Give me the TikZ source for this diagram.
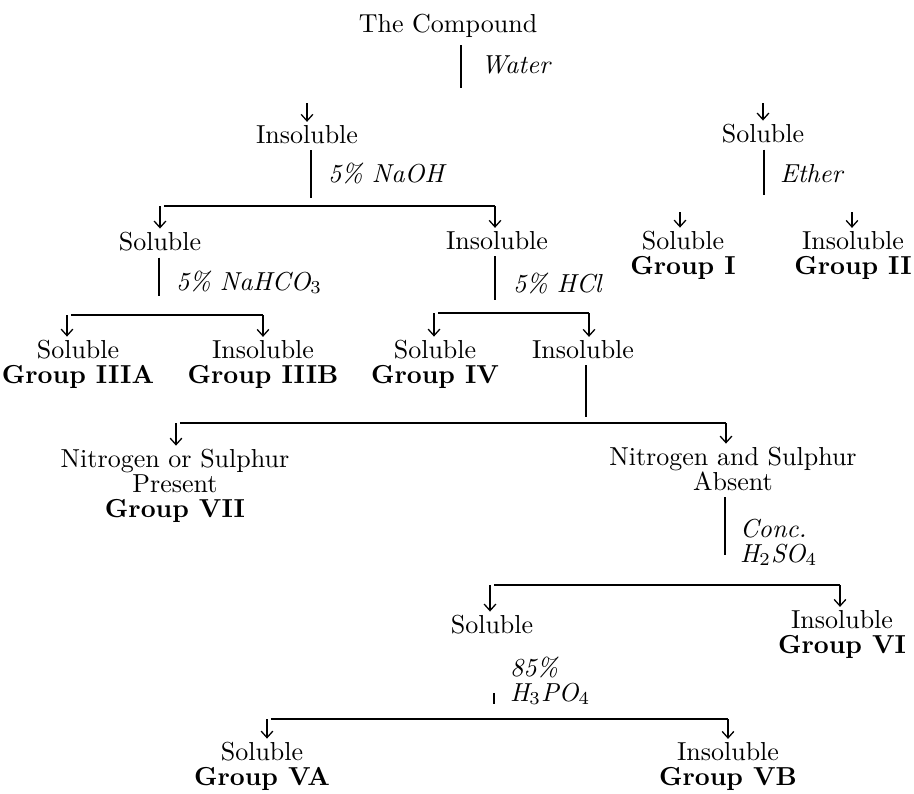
\documentclass[tikz,border=0pt]{standalone}
\usetikzlibrary{arrows.meta, positioning}

\begin{document}
\begin{tikzpicture}[x=0.3846pt, y=-0.3846pt, >={Straight Barb[length=2.5pt, width=4.5pt]},
        every node/.style={inner sep=1pt, font=\fontsize{10}{9.6}\selectfont},
        res/.style={anchor=base, align=center},
        reag/.style={anchor=base west, align=left, font=\fontsize{10}{9.6}\selectfont\itshape},
        ln/.style={line width=0.5pt, shorten <=1.5pt},
        arr/.style={->, line width=0.5pt}]
        \useasboundingbox (0,0) rectangle (914,794);

        % Water (base of a node = its last line)
        \node[res] (compound) at (448,33) {The Compound};
        \coordinate (water) at (461,88);
        \draw[ln] (compound.south -| water) -- (water);
        \node[reag] (waterlbl) at (478,73) {Water};

        \coordinate (topL) at (307,103);
        \coordinate (topR) at (763,103);
        \node[res] (insA) at (307,143) {Insoluble};
        \node[res] (solA) at (763,142) {Soluble};
        \draw[arr] (topL) -- (topL |- insA.north);
        \draw[arr] (topR) -- (topR |- solA.north);

        % 5% NaOH
        \coordinate (naoh) at (311,198);
        \draw[ln] (insA.south -| naoh) -- (naoh);
        \node[reag] (naohlbl) at (325,182) {5\% NaOH};
        \coordinate (naohL) at (160,206);
        \coordinate (naohR) at (495,206);
        \draw[ln] (naohL) -- (naohR);
        \node[res] (solB) at (160,250) {Soluble};
        \node[res] (insB) at (497,249) {Insoluble};
        \draw[arr] (naohL) -- (naohL |- solB.north);
        \draw[arr] (naohR) -- (naohR |- insB.north);

        % Ether
        \coordinate (ether) at (764,195);
        \draw[ln] (solA.south -| ether) -- (ether);
        \node[reag] (etherlbl) at (777,182) {Ether};
        \coordinate (ethL) at (680,212);
        \coordinate (ethR) at (852,212);
        \node[res] (grpI) at (683,274) {Soluble\\\textbf{Group I}};
        \node[res] (grpII) at (853,274) {Insoluble\\\textbf{Group II}};
        \draw[arr] (ethL) -- (ethL |- grpI.north);
        \draw[arr] (ethR) -- (ethR |- grpII.north);

        % 5% NaHCO3
        \coordinate (nahco) at (159,296);
        \draw[ln] (solB.south -| nahco) -- (nahco);
        \node[reag] (nahcolbl) at (173,290) {5\% NaHCO$_3$};
        \coordinate (nahcoL) at (67,315);
        \coordinate (nahcoR) at (263,315);
        \draw[ln] (nahcoL) -- (nahcoR);
        \node[res] (grpIIIA) at (78,383) {Soluble\\\textbf{Group IIIA}};
        \node[res] (grpIIIB) at (263,383) {Insoluble\\\textbf{Group IIIB}};
        \draw[arr] (nahcoL) -- (nahcoL |- grpIIIA.north);
        \draw[arr] (nahcoR) -- (nahcoR |- grpIIIB.north);

        % 5% HCl
        \coordinate (hcl) at (495,300);
        \draw[ln] (insB.south -| hcl) -- (hcl);
        \node[reag] (hcllbl) at (510,292) {5\% HCl};
        \coordinate (hclL) at (434,313);
        \coordinate (hclR) at (589,313);
        \draw[ln] (hclL) -- (hclR);
        \node[res] (grpIV) at (435,383) {Soluble\\\textbf{Group IV}};
        \node[res] (insC) at (583,358) {Insoluble};
        \draw[arr] (hclL) -- (hclL |- grpIV.north);
        \draw[arr] (hclR) -- (hclR |- insC.north);

        % N and S
        \coordinate (elem) at (586,417);
        \draw[ln] (insC.south -| elem) -- (elem);
        \coordinate (elemL) at (176,423);
        \coordinate (elemR) at (726,423);
        \draw[ln] (elemL) -- (elemR);
        \node[res] (grpVII) at (175,517) {Nitrogen or Sulphur\\Present\\\textbf{Group VII}};
        \node[res] (absent) at (733,490) {Nitrogen and Sulphur\\Absent};
        \draw[arr] (elemL) -- (elemL |- grpVII.north);
        \draw[arr] (elemR) -- (elemR |- absent.north);

        % Conc. H2SO4
        \coordinate (hso) at (725,555);
        \draw[ln] (absent.south -| hso) -- (hso);
        \node[reag] (hsolbl) at (737,562) {Conc.\\H$_2$SO$_4$};
        \coordinate (hsoL) at (490,585);
        \coordinate (hsoR) at (840,585);
        \draw[ln] (hsoL) -- (hsoR);
        \node[res] (solD) at (492,633) {Soluble};
        \node[res] (grpVI) at (842,653) {Insoluble\\\textbf{Group VI}};
        \draw[arr] (hsoL) -- (hsoL |- solD.north);
        \draw[arr] (hsoR) -- (hsoR |- grpVI.north);

        % 85% H3PO4
        \node[reag] (hpolbl) at (507,701) {85\%\\H$_3$PO$_4$};
        \coordinate (hpoT) at (494,689);
        \coordinate (hpo) at (494,704);
        \draw[ln] (hpoT) -- (hpo);
        \coordinate (hpoL) at (267,719);
        \coordinate (hpoR) at (728,719);
        \draw[ln] (hpoL) -- (hpoR);
        \node[res] (grpVA) at (262,785) {Soluble\\\textbf{Group VA}};
        \node[res] (grpVB) at (728,785) {Insoluble\\\textbf{Group VB}};
        \draw[arr] (hpoL) -- (hpoL |- grpVA.north);
        \draw[arr] (hpoR) -- (hpoR |- grpVB.north);

\end{tikzpicture}
\end{document}
